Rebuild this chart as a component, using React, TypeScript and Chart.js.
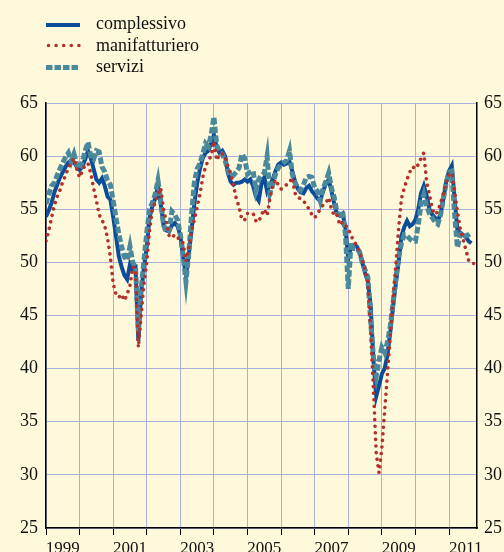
import React, { useEffect, useRef } from 'react';
import { Chart, registerables } from 'chart.js';

Chart.register(...registerables);

// Monthly values, January 1999 onward (index 0 = Jan 1999)
const complessivo = [
  54.3, 54.9, 55.6, 56.6, 57.3, 58.0, 58.5, 59.0, 59.4, 59.6, 59.4, 59.0,
  58.7, 59.0, 59.7, 60.5, 59.8, 58.8, 57.8, 57.5, 57.9, 57.2, 56.2, 55.9,
  54.3, 52.5, 50.6, 49.6, 48.8, 48.4, 49.8, 49.3, 49.5, 42.6, 47.2, 49.5,
  51.5, 54.2, 55.3, 56.0, 57.2, 55.5, 53.5, 53.0, 52.9, 53.5, 53.7, 53.4,
  52.5, 50.5, 48.8, 50.7, 53.0, 55.5, 57.4, 58.8, 59.8, 60.3, 60.5, 61.2,
  62.0, 60.8, 60.3, 60.5, 60.0, 58.4, 57.6, 57.3, 57.5, 57.5, 57.6, 57.8,
  57.6, 57.8, 57.2, 56.2, 55.8, 57.4, 58.0, 56.7, 57.3, 57.8, 58.6, 59.2,
  59.4, 59.2, 59.3, 59.5, 58.6, 57.6, 56.9, 56.6, 56.5, 57.0, 57.2, 56.7,
  56.4, 56.0, 55.8, 56.7, 57.4, 57.8, 56.7, 55.5, 54.5, 54.4, 54.6, 53.2,
  50.3, 51.6, 51.6, 51.5, 51.0, 50.0, 49.0, 48.2, 46.0, 40.8, 37.4, 38.4,
  39.5, 40.0, 41.3, 43.4, 45.8, 48.0, 50.0, 52.5, 53.3, 53.9, 53.4, 53.6,
  54.0, 55.0, 56.5, 57.2, 56.3, 55.0, 54.5, 54.2, 53.9, 54.6, 56.0, 57.6,
  58.6, 59.1, 56.0, 53.0, 52.8, 52.6, 52.4, 52.0, 51.8,
];

const manifatturiero = [
  52.0, 53.0, 54.2, 55.4, 56.2, 56.8, 57.6, 58.2, 58.9, 59.4, 59.8, 58.8,
  58.0, 58.6, 59.2, 59.3, 58.4, 57.0, 55.8, 54.5, 54.0, 53.4, 52.3, 50.5,
  48.0, 47.0, 46.7, 47.0, 46.4, 47.0, 47.8, 49.6, 49.3, 42.0, 45.0, 48.0,
  50.0, 53.0, 55.0, 55.6, 56.4, 57.0, 55.0, 53.8, 52.5, 52.3, 52.6, 52.3,
  52.2, 51.8, 50.1, 51.3, 52.9, 54.0, 55.2, 56.4, 58.0, 59.0, 59.6, 60.0,
  61.4, 59.6, 60.2, 60.2, 60.0, 59.0, 58.4, 57.2, 56.0, 55.2, 54.0, 54.0,
  54.6, 54.6, 54.6, 53.9, 53.8, 54.5, 55.0, 54.4, 56.0, 57.2, 57.8, 57.3,
  56.9, 57.2, 57.3, 57.5, 58.0, 56.5, 56.1, 56.0, 55.8, 55.4, 55.0, 54.5,
  54.2, 54.6, 55.0, 55.4, 55.6, 56.1, 55.0, 54.4, 54.5, 53.5, 53.8, 53.5,
  53.2, 52.5, 52.0, 51.6, 51.0, 50.3, 49.3, 48.2, 43.5, 38.0, 32.0, 30.2,
  32.5, 36.0, 39.5, 43.0, 46.5, 49.8, 53.2, 56.0, 57.0, 57.8, 58.5, 59.0,
  58.8, 59.2, 59.8, 60.3, 57.6, 56.4, 55.0, 54.5, 54.8, 55.6, 56.5, 57.5,
  58.3, 58.4, 56.7, 54.8, 53.2, 52.2, 51.2, 50.2, 49.9, 49.9,
];

const servizi = [
  55.5, 56.4, 57.2, 57.5, 58.2, 58.8, 59.4, 59.9, 60.3, 59.5, 60.2, 59.2,
  58.8, 59.5, 60.5, 61.3, 60.0, 59.7, 60.5, 60.4, 59.0, 58.5, 57.7, 57.3,
  55.8, 54.2, 52.7, 51.5, 50.5, 50.2, 51.5, 50.0, 49.5, 43.5, 47.5, 50.2,
  52.8, 55.0, 55.6, 56.4, 57.7, 55.8, 53.5, 52.8, 53.0, 54.8, 54.5, 54.0,
  52.6, 50.7, 48.2, 50.8, 54.5, 57.5, 58.8, 59.3, 60.2, 61.2, 60.9, 62.0,
  63.7, 61.0, 60.4, 60.2, 59.6, 58.6, 58.1, 58.2, 58.5, 58.9, 60.2, 59.8,
  58.3, 58.5, 58.6, 56.8, 57.8, 58.2, 58.4, 60.0, 56.5, 57.3, 58.3, 58.9,
  59.2, 59.4, 59.6, 60.5, 58.3, 57.5, 57.0, 56.8, 57.3, 58.0, 58.1, 58.0,
  57.0, 56.7, 55.8, 57.0, 57.6, 58.4, 57.0, 56.1, 54.6, 54.5, 54.8, 52.6,
  47.5, 51.9, 51.3, 51.3, 51.0, 50.0, 49.3, 48.6, 44.5, 41.0, 39.3, 40.8,
  42.0, 41.5, 42.5, 44.0, 46.2, 48.5, 50.5, 51.8, 52.6, 52.5, 52.2, 52.0,
  52.0, 53.5, 55.5, 56.4, 55.3, 54.6, 54.2, 53.8, 53.6, 54.5, 56.0, 57.5,
  58.5, 58.6, 54.5, 51.4, 52.6, 52.8, 52.5, 52.6, 52.8,
];

const yearLabels = ['1999', '2001', '2003', '2005', '2007', '2009', '2011'];
const seriesNames = ['complessivo', 'manifatturiero', 'servizi'];
const yMin = 25;
const yMax = 65;
const yStep = 5;

const BG = '#fff9dc';
const GRID = '#a9b1dc';
const BLUE = '#0b4c9b';
const RED = '#b3302b';
const TEAL = '#4a889b';
const FONT = "'Liberation Serif', 'Times New Roman', serif";

const toXY = (arr: number[]) => arr.map((v, i) => ({ x: i, y: v }));

export default function App() {
  const ref = useRef<HTMLCanvasElement>(null);

  useEffect(() => {
    const totalMonths = 154;
    const yearCount = Math.floor(totalMonths / 12);
    const tickValues: number[] = [];
    for (let k = 0; k <= yearCount; k++) tickValues.push(k * 12);
    yearLabels.forEach((_, k) => tickValues.push(k * 24 + 6));
    tickValues.sort((a, b) => a - b);

    const chart = new Chart(ref.current!, {
      type: 'line',
      data: {
        datasets: [
          {
            label: seriesNames[1],
            data: toXY(manifatturiero),
            borderColor: RED,
            borderWidth: 3.6,
            borderDash: [0.01, 6.6],
            borderCapStyle: 'round',
            pointRadius: 0,
            tension: 0,
            order: 0,
          },
          {
            label: seriesNames[2],
            data: toXY(servizi),
            borderColor: TEAL,
            borderWidth: 5,
            borderDash: [6.5, 2.5],
            borderCapStyle: 'butt',
            pointRadius: 0,
            tension: 0,
            order: 1,
          },
          {
            label: seriesNames[0],
            data: toXY(complessivo),
            borderColor: BLUE,
            borderWidth: 4,
            pointRadius: 0,
            tension: 0,
            order: 2,
          },
        ],
      },
      options: {
        animation: false,
        responsive: false,
        layout: { padding: { top: 103, left: 0, right: 0, bottom: 0 } },
        plugins: { legend: { display: false }, tooltip: { enabled: false } },
        scales: {
          x: {
            type: 'linear',
            min: 0,
            max: totalMonths,
            afterBuildTicks: (scale: any) => {
              scale.ticks = tickValues.map((v) => ({ value: v }));
            },
            afterFit: (scale: any) => {
              scale.height = 24;
            },
            ticks: {
              autoSkip: false,
              maxRotation: 0,
              padding: 3,
              color: '#111',
              font: { family: FONT, size: 17 },
              callback: (value: any) => {
                const k = (Number(value) - 6) / 24;
                return Number.isInteger(k) && k >= 0 && k < yearLabels.length ? yearLabels[k] : '';
              },
            },
            grid: {
              color: (ctx: any) => (ctx.tick && ctx.tick.value % 12 === 0 ? GRID : 'rgba(0,0,0,0)'),
              tickColor: (ctx: any) => (ctx.tick && ctx.tick.value % 12 === 0 ? '#000' : 'rgba(0,0,0,0)'),
              tickLength: 7,
              lineWidth: 1,
            },
            border: { display: true, color: '#000', width: 1.5 },
          },
          y: {
            type: 'linear',
            position: 'left',
            min: yMin,
            max: yMax,
            afterFit: (scale: any) => {
              scale.width = 46;
            },
            ticks: {
              stepSize: yStep,
              padding: 8,
              color: '#111',
              font: { family: FONT, size: 18 },
            },
            grid: { color: GRID, lineWidth: 1, drawTicks: false },
            border: { display: true, color: '#000', width: 1.5 },
          },
          y2: {
            type: 'linear',
            position: 'right',
            min: yMin,
            max: yMax,
            afterFit: (scale: any) => {
              scale.width = 27;
            },
            ticks: {
              stepSize: yStep,
              padding: 7,
              color: '#111',
              font: { family: FONT, size: 18 },
            },
            grid: { drawOnChartArea: false, drawTicks: false },
            border: { display: true, color: '#000', width: 1.5 },
          },
        },
      },
    } as any);
    return () => chart.destroy();
  }, []);

  const legendRows = [
    { name: seriesNames[0], cy: 25, top: 14, stroke: BLUE, width: 4, dash: undefined, cap: 'butt', x1: 46 },
    { name: seriesNames[1], cy: 45.5, top: 35.5, stroke: RED, width: 3.6, dash: '0 7.6', cap: 'round', x1: 48.5 },
    { name: seriesNames[2], cy: 67.5, top: 57, stroke: TEAL, width: 5, dash: '6.5 2', cap: 'butt', x1: 46 },
  ];

  return (
    <div
      style={{
        position: 'fixed',
        left: 0,
        top: 0,
        width: 504,
        height: 552,
        background: BG,
        overflow: 'hidden',
      }}
    >
      <canvas ref={ref} width={504} height={552} style={{ position: 'absolute', left: 0, top: 0 }} />
      <svg width={504} height={90} style={{ position: 'absolute', left: 0, top: 0 }}>
        {legendRows.map((r) => (
          <line
            key={r.name}
            x1={r.x1}
            x2={80}
            y1={r.cy}
            y2={r.cy}
            stroke={r.stroke}
            strokeWidth={r.width}
            strokeDasharray={r.dash}
            strokeLinecap={r.cap as any}
          />
        ))}
      </svg>
      {legendRows.map((r) => (
        <div
          key={r.name}
          style={{
            position: 'absolute',
            left: 96,
            top: r.top,
            fontFamily: FONT,
            fontSize: 18,
            lineHeight: '18px',
            color: '#111',
            whiteSpace: 'nowrap',
          }}
        >
          {r.name}
        </div>
      ))}
    </div>
  );
}
